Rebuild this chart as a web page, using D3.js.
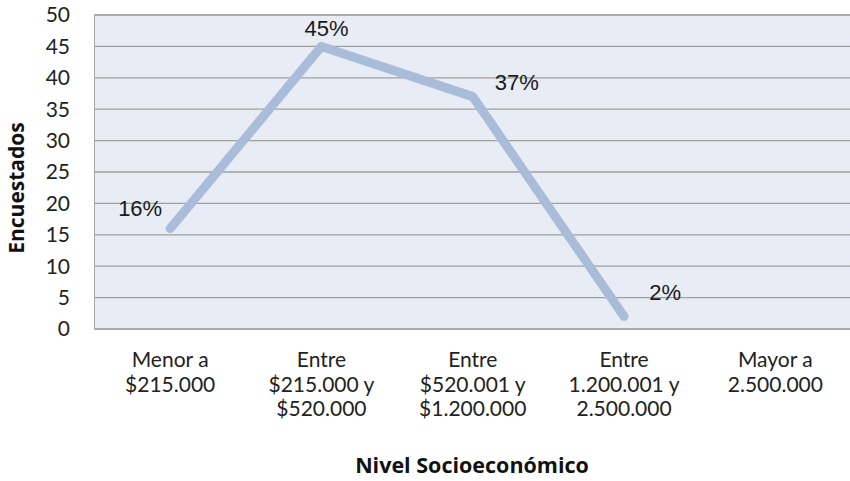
<!DOCTYPE html>
<html><head><meta charset="utf-8">
<script src="https://cdn.jsdelivr.net/npm/d3@7"></script>
<style>body{margin:0;background:#fff}svg{display:block}</style>
</head><body>
<svg id="c" width="850" height="481"></svg>
<script>
const categories = [
  ["Menor a", "$215.000"],
  ["Entre", "$215.000 y", "$520.000"],
  ["Entre", "$520.001 y", "$1.200.000"],
  ["Entre", "1.200.001 y", "2.500.000"],
  ["Mayor a", "2.500.000"]
];
const values = [16, 45, 37, 2, null];
const labels = ["16%", "45%", "37%", "2%", null];
const yTicks = [0, 5, 10, 15, 20, 25, 30, 35, 40, 45, 50];
const yTitle = "Encuestados";
const xTitle = "Nivel Socioeconómico";

const labelOffsets = [[-30, -13], [5, -10], [44, -7], [41, -16], [0, 0]];

const svg = d3.select("#c");
const m = {l: 94.5, r: 851, t: 15, b: 329};
const x = d3.scaleBand().domain(d3.range(categories.length)).range([m.l, m.r]);
const y = d3.scaleLinear().domain([0, 50]).range([m.b, m.t]);

svg.append("rect").attr("x", m.l).attr("y", m.t).attr("width", m.r - m.l).attr("height", m.b - m.t)
  .attr("fill", "#e8ecf4").attr("stroke", "#a6a6a6").attr("stroke-width", 1);

svg.append("g").selectAll("line").data(yTicks).join("line")
  .attr("x1", m.l).attr("x2", m.r)
  .attr("y1", d => y(d)).attr("y2", d => y(d))
  .attr("stroke", d => d === 0 ? "#aaaaaa" : "#a0a0a0")
  .attr("stroke-width", d => d === 0 ? 2 : 1.3);

const font = "Lato, 'Open Sans', sans-serif";
svg.append("g").selectAll("text").data(yTicks).join("text")
  .attr("x", 70).attr("y", d => y(d)).attr("dy", "0.35em")
  .attr("text-anchor", "end")
  .attr("font-family", font).attr("font-size", 21)
  .attr("fill", "#222").text(d => d);

const pts = values.map((v, i) => ({v, i})).filter(d => d.v !== null);
const line = d3.line().x(d => x(d.i) + x.bandwidth() / 2).y(d => y(d.v));
svg.append("path").datum(pts).attr("d", line)
  .attr("fill", "none").attr("stroke", "#a9bcd9").attr("stroke-width", 9)
  .attr("stroke-linejoin", "round").attr("stroke-linecap", "round");

svg.append("g").selectAll("text").data(pts).join("text")
  .attr("x", d => x(d.i) + x.bandwidth() / 2 + labelOffsets[d.i][0])
  .attr("y", d => y(d.v) + labelOffsets[d.i][1])
  .attr("text-anchor", "middle")
  .attr("font-family", "'Liberation Sans', Arial, sans-serif").attr("font-size", 22)
  .attr("fill", "#1a1a1a").text(d => labels[d.i]);

const cg = svg.append("g").selectAll("text").data(categories).join("text")
  .attr("x", (d, i) => x(i) + x.bandwidth() / 2)
  .attr("y", 367)
  .attr("text-anchor", "middle")
  .attr("font-family", font).attr("font-size", 21)
  .attr("fill", "#222");
cg.each(function(d, i) {
  d3.select(this).selectAll("tspan").data(d).join("tspan")
    .attr("x", x(i) + x.bandwidth() / 2)
    .attr("dy", (t, j) => j === 0 ? 0 : 24.5)
    .text(t => t);
});

const tfont = "'Open Sans', Lato, sans-serif";
svg.append("text").attr("x", 472).attr("y", 473).attr("text-anchor", "middle")
  .attr("font-family", tfont).attr("font-size", 21.5).attr("font-weight", "bold")
  .attr("fill", "#111").text(xTitle);

svg.append("text").attr("transform", "translate(24,188) rotate(-90)").attr("text-anchor", "middle")
  .attr("font-family", tfont).attr("font-size", 21).attr("font-weight", "bold")
  .attr("fill", "#111").text(yTitle);
</script>
</body></html>
